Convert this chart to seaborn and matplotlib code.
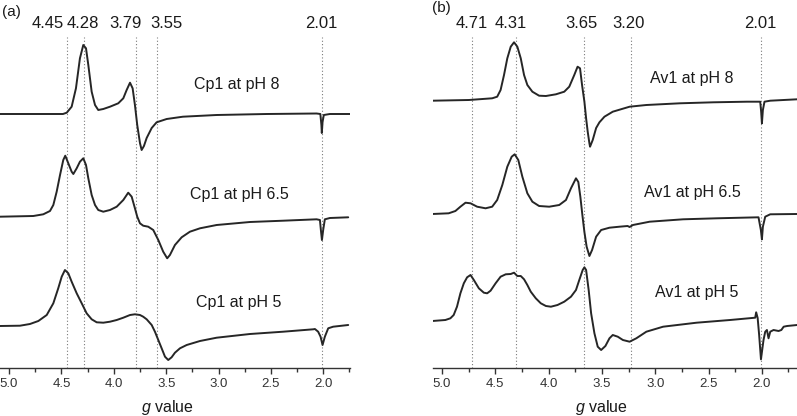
import numpy as np
import pandas as pd
import matplotlib
matplotlib.use("Agg")
import matplotlib.pyplot as plt
from matplotlib.ticker import MultipleLocator
import seaborn as sns

# ---- data (g value vs. derivative intensity, arb. units)
cp1_ph8_g = [5.086, 4.485, 4.449, 4.402, 4.361, 4.323, 4.291, 4.265, 4.243, 4.211, 4.179, 4.148, 4.100,
             4.036, 3.957, 3.909, 3.877, 3.845, 3.820, 3.798, 3.776, 3.750, 3.734, 3.712, 3.686, 3.638,
             3.591, 3.495, 3.340, 3.018, 2.541, 2.064, 2.028, 2.018, 2.014, 2.007, 1.995, 1.937, 1.746]
cp1_ph8_i = [0, 0, 1.3, 7.3, 25.7, 55.7, 69, 65.7, 49, 22.3, 9, 4, 5, 7.3, 10.7, 15.7, 24, 31.3, 25.7, 9,
             -11, -29, -36, -32, -24, -14, -8.3, -5, -2.7, -1, 0, 0.5, 0, -11, -19, -8, -1, 0, 0]

cp1_ph65_g = [5.086, 4.768, 4.673, 4.609, 4.577, 4.545, 4.513, 4.482, 4.463, 4.434, 4.402, 4.386, 4.354,
              4.323, 4.291, 4.265, 4.243, 4.211, 4.179, 4.148, 4.100, 4.036, 3.972, 3.909, 3.862, 3.829,
              3.798, 3.776, 3.750, 3.719, 3.671, 3.623, 3.575, 3.528, 3.490, 3.464, 3.416, 3.352, 3.273,
              3.177, 3.018, 2.700, 2.383, 2.064, 2.032, 2.023, 2.013, 2.001, 1.985, 1.937, 1.762]
cp1_ph65_i = [0.3, 1, 2.7, 6, 12, 25.3, 42, 57, 61.3, 53.7, 45.3, 43, 48.7, 55.3, 58.7, 52, 38.7, 22, 12,
              7, 5.3, 7, 10.3, 17, 24.3, 20.3, 8.7, 0.3, -6.3, -8.7, -9.7, -13, -23, -34.7, -41.3, -38,
              -28, -20.3, -14.7, -11.3, -8, -5, -3.7, -2.3, -3, -13, -23, -13, -2.3, -1, -0.3]

cp1_ph5_g = [5.086, 4.895, 4.800, 4.720, 4.640, 4.577, 4.530, 4.497, 4.466, 4.434, 4.402, 4.354, 4.306,
             4.259, 4.211, 4.163, 4.100, 4.036, 3.972, 3.909, 3.845, 3.798, 3.750, 3.719, 3.686, 3.638,
             3.607, 3.575, 3.543, 3.511, 3.480, 3.448, 3.416, 3.368, 3.304, 3.177, 3.018, 2.700, 2.383,
             2.096, 2.080, 2.049, 2.026, 2.007, 1.985, 1.953, 1.906, 1.762]
cp1_ph5_i = [0, 0.3, 2, 5, 11, 22.7, 37.7, 49.3, 56, 52.7, 44.3, 32.7, 22.7, 12.7, 6.7, 3.7, 3.3, 4.3, 6,
             8.3, 11, 11.7, 11, 9.3, 6.7, 1, -5.7, -14, -22.3, -30.7, -34, -31.3, -26.7, -22.3, -19, -15,
             -11.7, -8, -5.7, -3.3, -3, -5.7, -10.7, -19, -10.7, -2.3, -0.7, 1]

av1_ph8_g = [5.09, 4.748, 4.529, 4.482, 4.450, 4.418, 4.387, 4.355, 4.324, 4.293, 4.261, 4.230, 4.199,
             4.152, 4.089, 4.025, 3.931, 3.853, 3.806, 3.759, 3.728, 3.705, 3.686, 3.664, 3.648, 3.633,
             3.617, 3.611, 3.586, 3.554, 3.523, 3.476, 3.398, 3.240, 3.083, 2.769, 2.455, 2.140, 2.015,
             2.006, 1.999, 1.990, 1.975, 1.921, 1.669]
av1_ph8_i = [-0.7, 0, 1.7, 3.3, 10, 25, 41.7, 53.3, 57.7, 53.3, 41.7, 25, 15, 8.3, 4.3, 4, 5.7, 8.3, 13.3,
             25, 33.3, 31.7, 15, -1.7, -18.3, -31.7, -43.3, -46.7, -40, -28, -22.3, -16.7, -11.7, -6.7,
             -5, -3.3, -2.3, -1.7, -1.7, -12, -23.3, -10, -1.7, -0.7, 0.7]

av1_ph65_g = [5.09, 4.937, 4.874, 4.827, 4.779, 4.732, 4.670, 4.591, 4.529, 4.482, 4.434, 4.387, 4.346,
              4.318, 4.284, 4.246, 4.199, 4.152, 4.089, 3.994, 3.900, 3.837, 3.790, 3.743, 3.721, 3.702,
              3.683, 3.664, 3.643, 3.617, 3.592, 3.554, 3.507, 3.429, 3.335, 3.259, 3.240, 3.209, 3.052,
              2.738, 2.423, 2.031, 2.009, 1.999, 1.990, 1.968, 1.921, 1.669]
av1_ph65_i = [0, 0.7, 3, 7.3, 11.3, 10.7, 7.3, 5.7, 7.3, 14, 29, 47.3, 57.3, 59.7, 54, 37.3, 20.7, 12.3, 8,
              7.3, 9, 14, 25.7, 35.7, 32, 17.3, -1, -18, -32.7, -42, -36, -22.7, -16, -13.7, -12.7, -12,
              -13, -11, -7.7, -5.3, -4.3, -3.3, -16, -25.3, -12.7, -2.7, -0.3, 0]

av1_ph5_g = [5.09, 4.968, 4.921, 4.890, 4.859, 4.827, 4.795, 4.764, 4.732, 4.701, 4.654, 4.607, 4.576,
             4.544, 4.497, 4.450, 4.402, 4.355, 4.324, 4.293, 4.261, 4.230, 4.199, 4.167, 4.120, 4.073,
             4.025, 3.978, 3.916, 3.853, 3.790, 3.743, 3.712, 3.680, 3.664, 3.648, 3.624, 3.601, 3.570,
             3.539, 3.507, 3.467, 3.429, 3.398, 3.351, 3.303, 3.240, 3.177, 3.083, 2.926, 2.612, 2.298,
             2.062, 2.053, 2.039, 2.025, 2.008, 1.984, 1.968, 1.952, 1.937, 1.921, 1.890, 1.843, 1.817,
             1.795, 1.763, 1.669]
av1_ph5_i = [0, 1, 2.7, 6, 14.3, 27.7, 37.7, 43.7, 46, 41, 32.7, 28.3, 27.7, 30.3, 37.7, 44.3, 46.7, 47,
             48.3, 45, 45, 41.7, 36, 29.3, 22.7, 17.7, 15, 14.3, 16, 19.3, 24.3, 31, 41, 51, 53.7, 51, 31,
             7.7, -12.3, -25.7, -29, -25, -17.3, -14, -15.7, -19, -20.7, -17.3, -10.7, -5.7, -1.7, 1,
             3.3, 8.7, 3, -14, -38.3, -19, -10.7, -9, -17.3, -10.7, -9, -10, -9, -5.7, -5, -4]

cp1_names = ["Cp1 at pH 8", "Cp1 at pH 6.5", "Cp1 at pH 5"]
av1_names = ["Av1 at pH 8", "Av1 at pH 6.5", "Av1 at pH 5"]

# marked g values (dotted lines) and their labels
cp1_lines = [4.45, 4.28, 3.79, 3.59, 2.01]
cp1_line_labels = ["4.45", "4.28", "3.79", "3.55", "2.01"]
av1_lines = [4.72, 4.31, 3.67, 3.23, 2.01]
av1_line_labels = ["4.71", "4.31", "3.65", "3.20", "2.01"]

sns.set_style("ticks")
plt.rcParams['font.family'] = ['Liberation Sans', 'DejaVu Sans']
plt.rcParams['mathtext.fontset'] = 'custom'
plt.rcParams['mathtext.it'] = 'Liberation Sans:italic'
plt.rcParams['mathtext.rm'] = 'Liberation Sans'

fig = plt.figure(figsize=(7.97, 4.16), dpi=100)
ax_a = fig.add_axes([0.0, 1 - 368 / 416, 350 / 797, 331 / 416])
ax_b = fig.add_axes([433 / 797, 1 - 368 / 416, 364 / 797, 331 / 416])

line_col = "#262626"


def draw_panel(ax, spectra, offsets, names, name_pos, lines, labels, label_x, xlim, lab_x):
    for (g, inten), off, name, (tx, ty) in zip(spectra, offsets, names, name_pos):
        df = pd.DataFrame({"g": g, "y": np.array(inten) + off})
        sns.lineplot(data=df, x="g", y="y", ax=ax, sort=False, estimator=None,
                     color=line_col, lw=1.4)
        ax.text(tx, ty, name, ha="center", va="center", fontsize=11.5, color="#1a1a1a")
    for v in lines:
        ax.axvline(v, color="#7a7a7a", lw=0.8, ls=(0, (1, 2)), zorder=0)
    for lx, lab in zip(label_x, labels):
        ax.text(lx, 1.042, lab, transform=ax.get_xaxis_transform(), ha="center", va="center",
                fontsize=12, color="#1a1a1a", clip_on=False)
    ax.set_xlim(*xlim)
    ax.set_ylim(0, 331)
    ax.set_yticks([])
    ax.set_ylabel("")
    for s in ["top", "right", "left"]:
        ax.spines[s].set_visible(False)
    ax.spines["bottom"].set_color("#333333")
    ax.spines["bottom"].set_linewidth(1.0)
    ax.xaxis.set_major_locator(MultipleLocator(0.5))
    ax.xaxis.set_minor_locator(MultipleLocator(0.25))
    ax.tick_params(axis="x", which="major", direction="out", length=4, width=1,
                   labelsize=9.5, colors="#333333", pad=3)
    ax.tick_params(axis="x", which="minor", direction="out", length=3, width=1, colors="#333333")
    ax.set_xlabel("$g$ value", fontsize=11.5, color="#1a1a1a")
    ax.xaxis.set_label_coords(lab_x, -0.09)


draw_panel(ax_a,
           [(cp1_ph8_g, cp1_ph8_i), (cp1_ph65_g, cp1_ph65_i), (cp1_ph5_g, cp1_ph5_i)],
           [254, 151, 42], cp1_names,
           [(2.824, 283), (2.805, 173), (2.805, 65)],
           cp1_lines, cp1_line_labels, [4.628, 4.294, 3.884, 3.502, 2.023],
           (5.086, 1.745), 0.477)

draw_panel(ax_b,
           [(av1_ph8_g, av1_ph8_i), (av1_ph65_g, av1_ph65_i), (av1_ph5_g, av1_ph5_i)],
           [268, 154, 47], av1_names,
           [(2.656, 290), (2.648, 175), (2.61, 76)],
           av1_lines, av1_line_labels, [4.72, 4.353, 3.693, 3.25, 2.016],
           (5.084, 1.67), 0.464)

fig.text(0.003, 1 - 12 / 416, "(a)", ha="left", va="center", fontsize=11, color="#1a1a1a")
fig.text(432 / 797, 1 - 8 / 416, "(b)", ha="left", va="center", fontsize=11, color="#1a1a1a")

fig.savefig("out.png", dpi=100)
